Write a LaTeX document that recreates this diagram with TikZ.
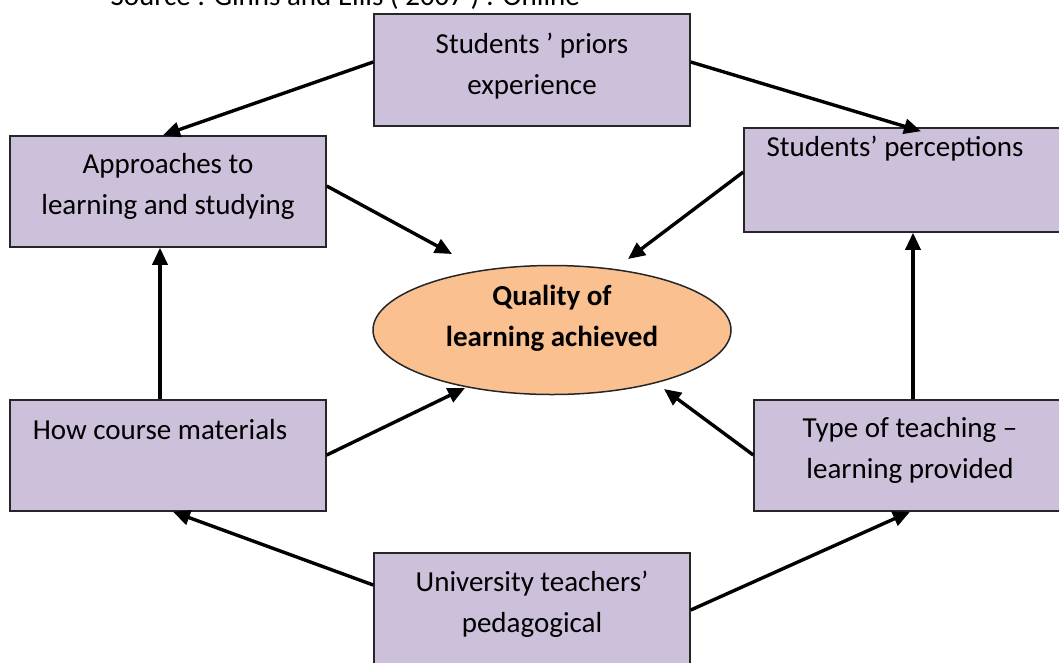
\documentclass[tikz,border=0pt]{standalone}
\usepackage{fontspec}
\setmainfont{Carlito}
\usetikzlibrary{shapes.geometric,arrows.meta}
\definecolor{boxfill}{HTML}{CCC0DA}
\definecolor{ovalfill}{HTML}{FAC090}
\tikzset{
  box/.style={draw=black!85,line width=1.5pt,fill=boxfill,rectangle,inner sep=0pt},
  txt/.style={align=center,font=\fontsize{29}{41}\selectfont},
  arr/.style={line width=3.4pt,-{Triangle[length=17pt,width=15pt]}}
}
\begin{document}
\begin{tikzpicture}[x=1pt,y=-1pt]
\useasboundingbox (0,0) rectangle (1059,662);
\clip (0,0) rectangle (1059,662);
\node[anchor=base west,font=\fontsize{29}{30}\selectfont] (src) at (107,5) {Source : Ginns and Ellis ( 2007 ) : Online};
% boxes
\node[box,minimum width=316,minimum height=112] (prior) at (532,70) {};
\node[box,minimum width=316,minimum height=111] (appr) at (168,191.5) {};
\node[box,minimum width=330,minimum height=104] (perc) at (909,180) {};
\node[box,minimum width=316,minimum height=111] (mat) at (168,455.5) {};
\node[box,minimum width=320,minimum height=111] (type) at (914,455.5) {};
\node[box,minimum width=316,minimum height=130] (univ) at (532,618) {};
\node[ellipse,draw=black!85,line width=1.5pt,fill=ovalfill,minimum width=358,minimum height=129] (qual) at (552,330) {};
% texts
\node[txt] (tprior) at (532,66) {Students ' priors\\experience};
\node[txt] (tappr) at (168,186) {Approaches to\\learning and studying};
\node[txt] (tperc) at (895,149) {Students' perceptions};
\node[txt,font=\fontsize{29}{41}\selectfont\bfseries] (tqual) at (552,318) {Quality of\\learning achieved};
\node[txt] (tmat) at (160,430) {How course materials};
\node[txt] (ttype) at (910,450) {Type of teaching --\\learning provided};
\node[txt] (tuniv) at (532,604) {University teachers'\\pedagogical};
% arrows
\draw[arr] (prior.west |- 0,62) -- ([xshift=-5pt]appr.north);
\draw[arr] (prior.east |- 0,62) -- ([xshift=12pt,yshift=-4pt]perc.north);
\draw[arr] (appr.east |- 0,186) -- (452,254);
\draw[arr] (perc.west |- 0,172) -- (628,259);
\draw[arr] ([xshift=-8pt]mat.north) -- ([xshift=-8pt]appr.south);
\draw[arr] ([xshift=-1pt]type.north) -- ([xshift=4pt]perc.south);
\draw[arr] (mat.east |- 0,455) -- (465,388);
\draw[arr] (type.west |- 0,455) -- (664,389);
\draw[arr] (univ.west |- 0,585) -- ([xshift=5pt]mat.south);
\draw[arr] (univ.east |- 0,610) -- ([xshift=-4pt]type.south);
\end{tikzpicture}
\end{document}
